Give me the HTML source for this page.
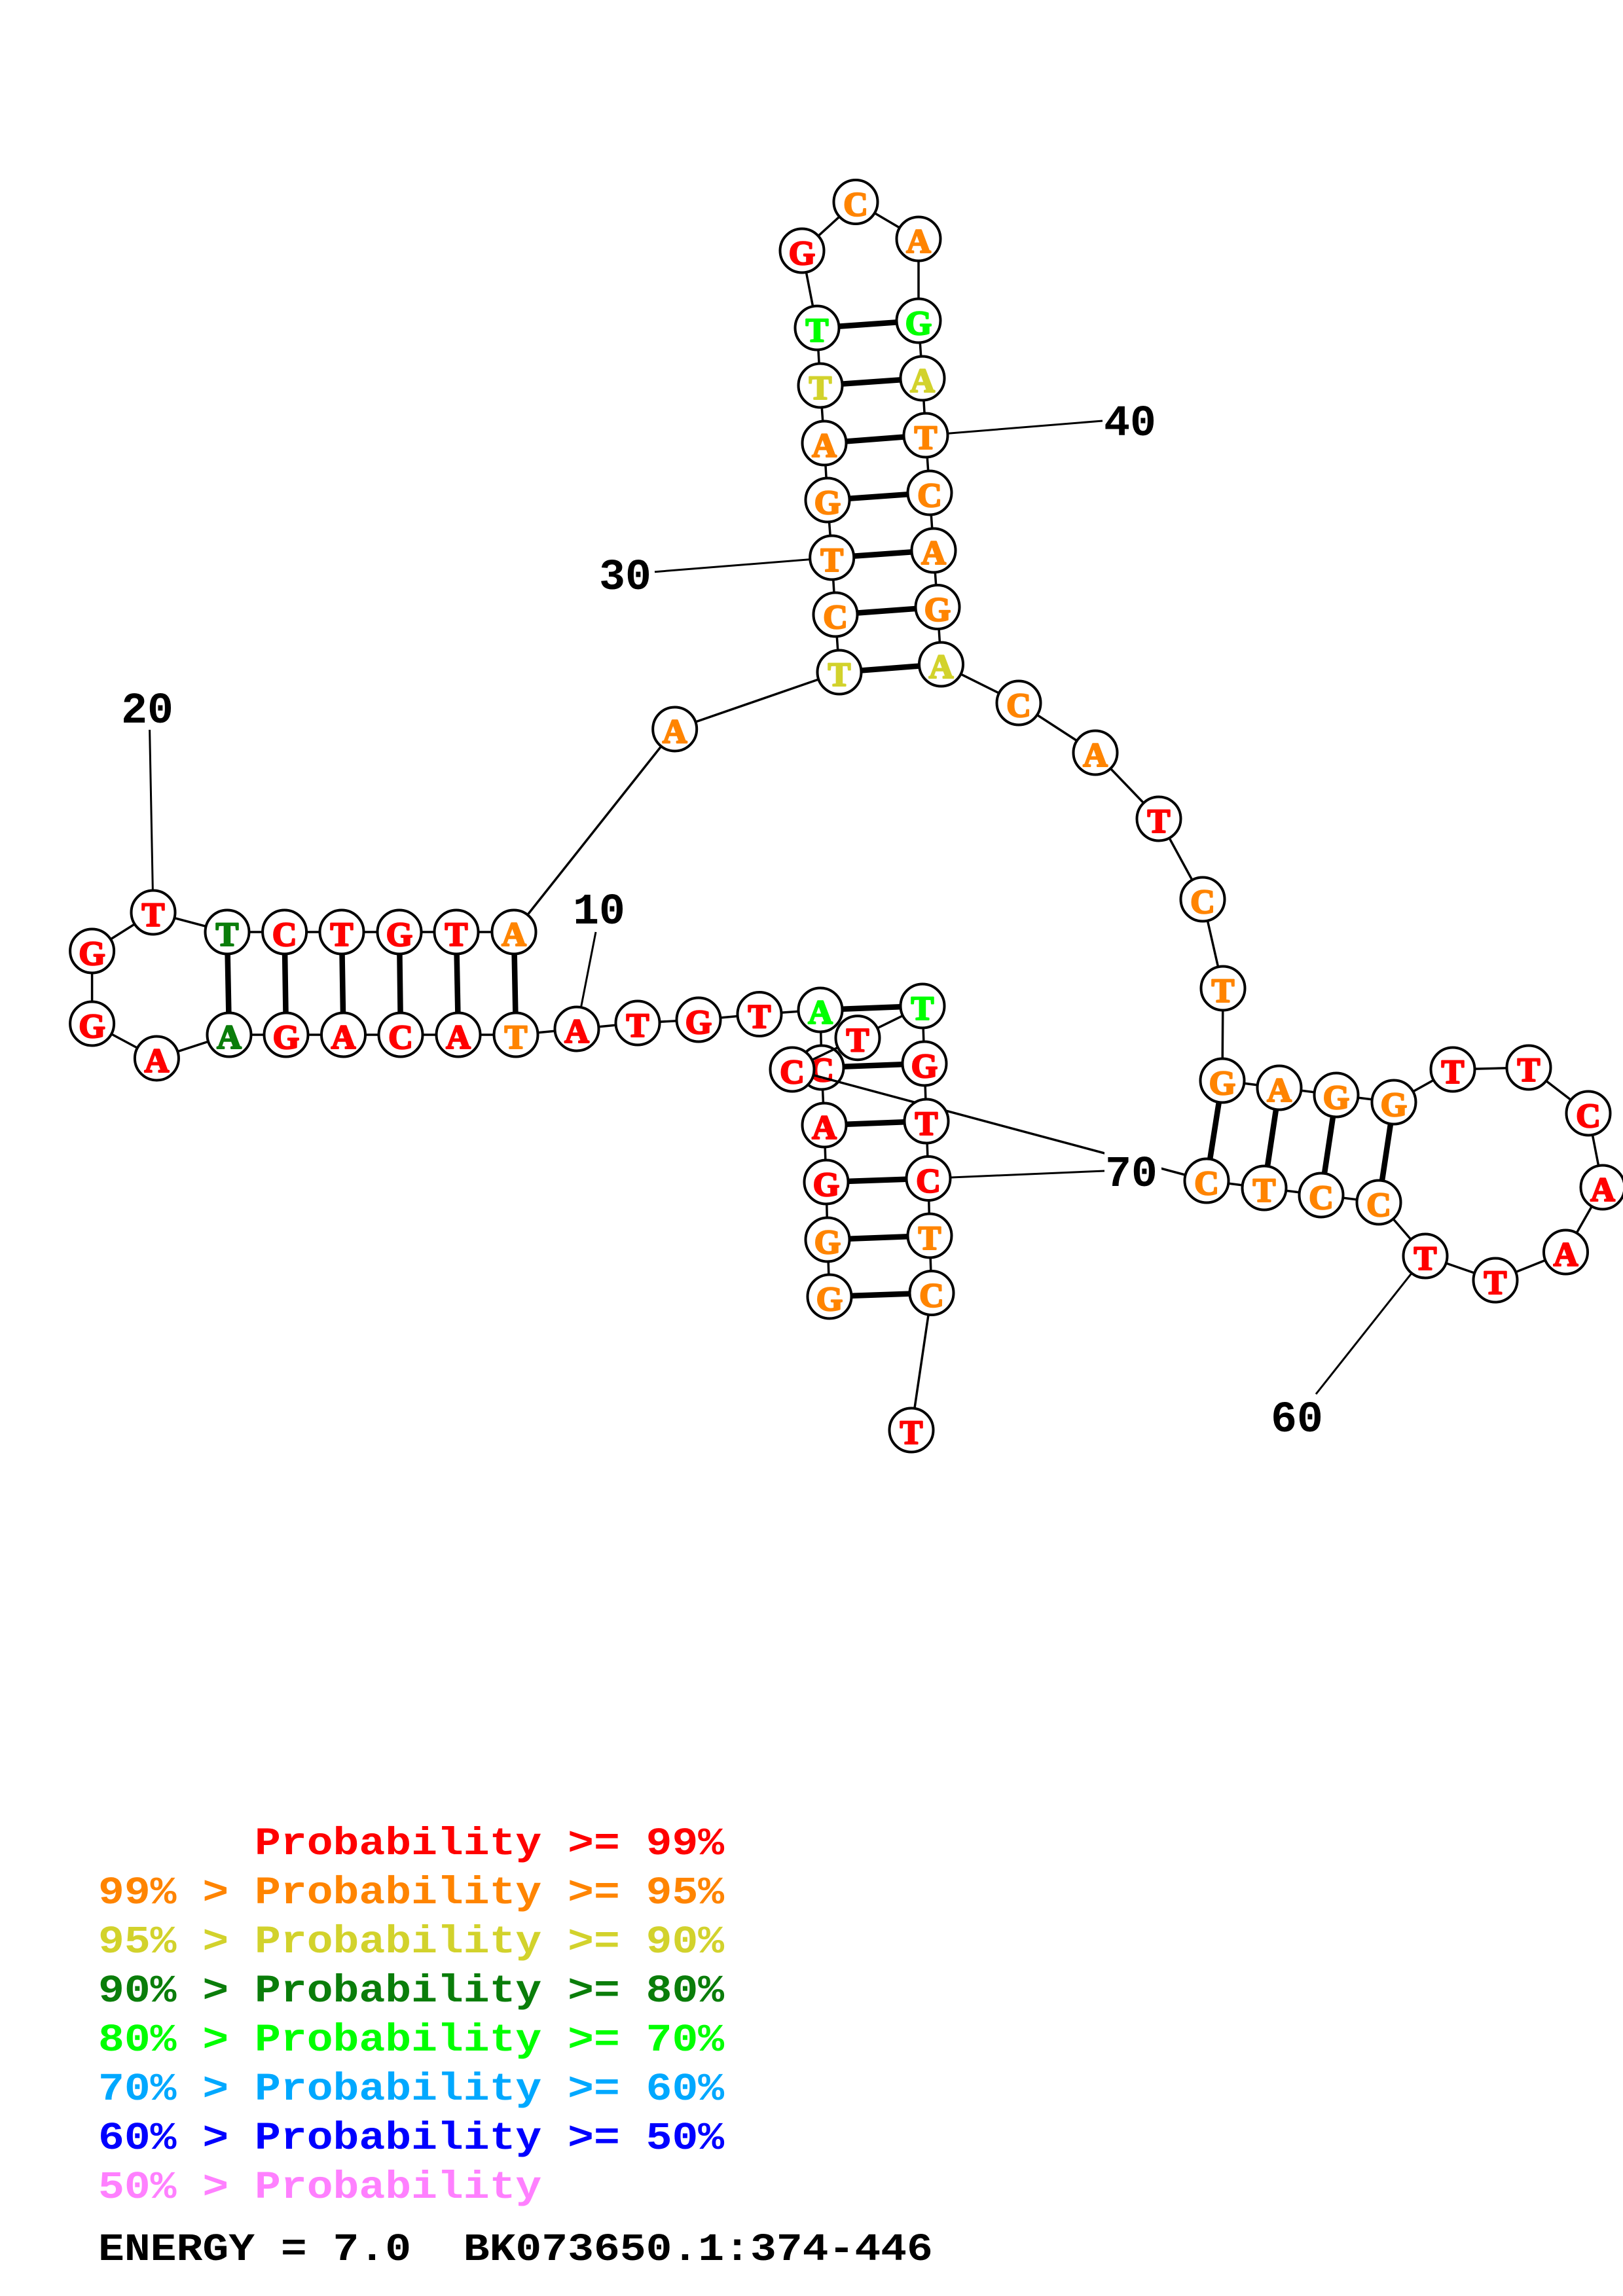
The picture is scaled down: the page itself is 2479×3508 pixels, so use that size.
<!DOCTYPE html>
<html><head><meta charset="utf-8"><style>
html,body{margin:0;padding:0;background:#fff}
svg{display:block}
path{stroke:#000;fill:none;stroke-width:3.5}
.p path{stroke-width:8.5}
.l path{stroke-width:3}
circle{r:33.5px;fill:#fff;stroke:#000;stroke-width:4}
.n text{font-family:"Liberation Serif",serif;font-weight:bold;font-size:52px;text-anchor:middle;stroke-width:2.5px;stroke-linejoin:round}
.r{fill:#f00;stroke:#f00}.o{fill:#ff8400;stroke:#ff8400}.y{fill:#d2d22c;stroke:#d2d22c}.d{fill:#0a7d0a;stroke:#0a7d0a}.g{fill:#0f0;stroke:#0f0}
.m{font-family:"Liberation Mono",monospace;font-weight:bold;font-size:66.4px;white-space:pre}
.m.c{text-anchor:middle}
</style></head><body>
<svg xmlns="http://www.w3.org/2000/svg" width="2479" height="3508" viewBox="0 0 2479 3508">
<rect width="2479" height="3508" fill="#fff"/>
<g class="p">
<path d="M1267 1981L1423 1975.5"/><path d="M1264 1894L1420 1888"/><path d="M1262 1806L1418 1800.5"/><path d="M1259 1719L1415 1713"/><path d="M1255 1631L1412 1625"/><path d="M1253 1543L1409 1537"/>
<path d="M788 1581L785 1424"/><path d="M700 1581L697 1424"/><path d="M612 1581L610 1424"/><path d="M524.5 1581L522 1424"/><path d="M437 1581L434.6 1424"/><path d="M350 1581L347 1424"/>
<path d="M1282 1027L1437.5 1015"/><path d="M1276 939L1432 927.5"/><path d="M1270.7 852L1426 841"/><path d="M1264 764L1420 753"/><path d="M1259 677L1414 665"/><path d="M1253 589L1409 578"/><path d="M1248 501L1403 490"/>
<path d="M1867 1651L1843 1804"/><path d="M1954 1662L1931 1815"/><path d="M2041 1673L2018 1826"/><path d="M2129 1684L2106 1837"/>
</g>
<g class="l">
<path d="M234 1394L228.6 1115"/><path d="M881 1572L910 1424"/><path d="M1270.7 852L1000 873.7"/><path d="M1414 665L1684 643"/><path d="M2177 1919L2010 2130"/><path d="M1418 1800.5L1687 1789"/>
</g>
<g>
<path d="M1267 1981L1264 1894L1262 1806L1259 1719L1255 1631L1253 1543L1160 1549.5L1067 1558L974 1563L881 1572L788 1581L700 1581L612 1581L524.5 1581L437 1581L350 1581L239.4 1617L140.6 1564L140.6 1453L234 1394L347 1424L434.6 1424L522 1424L610 1424L697 1424L785 1424L1030.7 1114L1282 1027L1276 939L1270.7 852L1264 764L1259 677L1253 589L1248 501L1225 383L1307 308.5L1403 365L1403 490L1409 578L1414 665L1420 753L1426 841L1432 927.5L1437.5 1015L1556 1074L1673 1150L1770 1251L1837 1374L1868 1510L1867 1651L1954 1662L2041 1673L2129 1684L2219 1634L2335 1631L2426 1701L2448 1814L2391.5 1913L2284 1956L2177 1919L2106 1837L2018 1826L1931 1815L1843 1804"/>
<path d="M1409 1537L1412 1625L1415 1713L1418 1800.5L1420 1888L1423 1975.5L1392 2185"/>
</g>
<g class="n">
<circle cx="1267" cy="1981"/><text class="o" x="1267" y="2002">G</text>
<circle cx="1264" cy="1894"/><text class="o" x="1264" y="1915">G</text>
<circle cx="1262" cy="1806"/><text class="r" x="1262" y="1827">G</text>
<circle cx="1259" cy="1719"/><text class="r" x="1259" y="1740">A</text>
<circle cx="1255" cy="1631"/><text class="r" x="1255" y="1652">C</text>
<circle cx="1253" cy="1543"/><text class="g" x="1253" y="1564">A</text>
<circle cx="1160" cy="1549.5"/><text class="r" x="1160" y="1570.5">T</text>
<circle cx="1067" cy="1558"/><text class="r" x="1067" y="1579">G</text>
<circle cx="974" cy="1563"/><text class="r" x="974" y="1584">T</text>
<circle cx="881" cy="1572"/><text class="r" x="881" y="1593">A</text>
<circle cx="788" cy="1581"/><text class="o" x="788" y="1602">T</text>
<circle cx="700" cy="1581"/><text class="r" x="700" y="1602">A</text>
<circle cx="612" cy="1581"/><text class="r" x="612" y="1602">C</text>
<circle cx="524.5" cy="1581"/><text class="r" x="524.5" y="1602">A</text>
<circle cx="437" cy="1581"/><text class="r" x="437" y="1602">G</text>
<circle cx="350" cy="1581"/><text class="d" x="350" y="1602">A</text>
<circle cx="239.4" cy="1617"/><text class="r" x="239.4" y="1638">A</text>
<circle cx="140.6" cy="1564"/><text class="r" x="140.6" y="1585">G</text>
<circle cx="140.6" cy="1453"/><text class="r" x="140.6" y="1474">G</text>
<circle cx="234" cy="1394"/><text class="r" x="234" y="1415">T</text>
<circle cx="347" cy="1424"/><text class="d" x="347" y="1445">T</text>
<circle cx="434.6" cy="1424"/><text class="r" x="434.6" y="1445">C</text>
<circle cx="522" cy="1424"/><text class="r" x="522" y="1445">T</text>
<circle cx="610" cy="1424"/><text class="r" x="610" y="1445">G</text>
<circle cx="697" cy="1424"/><text class="r" x="697" y="1445">T</text>
<circle cx="785" cy="1424"/><text class="o" x="785" y="1445">A</text>
<circle cx="1030.7" cy="1114"/><text class="o" x="1030.7" y="1135">A</text>
<circle cx="1282" cy="1027"/><text class="y" x="1282" y="1048">T</text>
<circle cx="1276" cy="939"/><text class="o" x="1276" y="960">C</text>
<circle cx="1270.7" cy="852"/><text class="o" x="1270.7" y="873">T</text>
<circle cx="1264" cy="764"/><text class="o" x="1264" y="785">G</text>
<circle cx="1259" cy="677"/><text class="o" x="1259" y="698">A</text>
<circle cx="1253" cy="589"/><text class="y" x="1253" y="610">T</text>
<circle cx="1248" cy="501"/><text class="g" x="1248" y="522">T</text>
<circle cx="1225" cy="383"/><text class="r" x="1225" y="404">G</text>
<circle cx="1307" cy="308.5"/><text class="o" x="1307" y="329.5">C</text>
<circle cx="1403" cy="365"/><text class="o" x="1403" y="386">A</text>
<circle cx="1403" cy="490"/><text class="g" x="1403" y="511">G</text>
<circle cx="1409" cy="578"/><text class="y" x="1409" y="599">A</text>
<circle cx="1414" cy="665"/><text class="o" x="1414" y="686">T</text>
<circle cx="1420" cy="753"/><text class="o" x="1420" y="774">C</text>
<circle cx="1426" cy="841"/><text class="o" x="1426" y="862">A</text>
<circle cx="1432" cy="927.5"/><text class="o" x="1432" y="948.5">G</text>
<circle cx="1437.5" cy="1015"/><text class="y" x="1437.5" y="1036">A</text>
<circle cx="1556" cy="1074"/><text class="o" x="1556" y="1095">C</text>
<circle cx="1673" cy="1150"/><text class="o" x="1673" y="1171">A</text>
<circle cx="1770" cy="1251"/><text class="r" x="1770" y="1272">T</text>
<circle cx="1837" cy="1374"/><text class="o" x="1837" y="1395">C</text>
<circle cx="1868" cy="1510"/><text class="o" x="1868" y="1531">T</text>
<circle cx="1867" cy="1651"/><text class="o" x="1867" y="1672">G</text>
<circle cx="1954" cy="1662"/><text class="o" x="1954" y="1683">A</text>
<circle cx="2041" cy="1673"/><text class="o" x="2041" y="1694">G</text>
<circle cx="2129" cy="1684"/><text class="o" x="2129" y="1705">G</text>
<circle cx="2219" cy="1634"/><text class="r" x="2219" y="1655">T</text>
<circle cx="2335" cy="1631"/><text class="r" x="2335" y="1652">T</text>
<circle cx="2426" cy="1701"/><text class="r" x="2426" y="1722">C</text>
<circle cx="2448" cy="1814"/><text class="r" x="2448" y="1835">A</text>
<circle cx="2391.5" cy="1913"/><text class="r" x="2391.5" y="1934">A</text>
<circle cx="2284" cy="1956"/><text class="r" x="2284" y="1977">T</text>
<circle cx="2177" cy="1919"/><text class="r" x="2177" y="1940">T</text>
<circle cx="2106" cy="1837"/><text class="o" x="2106" y="1858">C</text>
<circle cx="2018" cy="1826"/><text class="o" x="2018" y="1847">C</text>
<circle cx="1931" cy="1815"/><text class="o" x="1931" y="1836">T</text>
<circle cx="1843" cy="1804"/><text class="o" x="1843" y="1825">C</text>
<path d="M1810 1795L1210 1634L1310 1585.7L1409 1537"/>
<circle cx="1210" cy="1634"/><text class="r" x="1210" y="1655">C</text>
<circle cx="1310" cy="1585.7"/><text class="r" x="1310" y="1606.7">T</text>
<circle cx="1409" cy="1537"/><text class="g" x="1409" y="1558">T</text>
<circle cx="1412" cy="1625"/><text class="r" x="1412" y="1646">G</text>
<circle cx="1415" cy="1713"/><text class="r" x="1415" y="1734">T</text>
<circle cx="1418" cy="1800.5"/><text class="r" x="1418" y="1821.5">C</text>
<circle cx="1420" cy="1888"/><text class="o" x="1420" y="1909">T</text>
<circle cx="1423" cy="1975.5"/><text class="o" x="1423" y="1996.5">C</text>
<circle cx="1392" cy="2185"/><text class="r" x="1392" y="2206">T</text>
</g>
<rect x="1687" y="1750" width="87" height="70" fill="#fff"/>
<g>
<text class="m c" x="225" y="1104">20</text>
<text class="m c" x="915" y="1411">10</text>
<text class="m c" x="955" y="900">30</text>
<text class="m c" x="1726" y="665">40</text>
<text class="m c" x="1981" y="2187">60</text>
<text class="m c" x="1728" y="1812">70</text>
</g>
<g>
<text class="m" transform="translate(150,2833) scale(1,.9)" fill="#f00">      Probability &gt;= 99%</text>
<text class="m" transform="translate(150,2908) scale(1,.9)" fill="#ff8400">99% &gt; Probability &gt;= 95%</text>
<text class="m" transform="translate(150,2983) scale(1,.9)" fill="#d2d22c">95% &gt; Probability &gt;= 90%</text>
<text class="m" transform="translate(150,3058) scale(1,.9)" fill="#0a7d0a">90% &gt; Probability &gt;= 80%</text>
<text class="m" transform="translate(150,3133) scale(1,.9)" fill="#0f0">80% &gt; Probability &gt;= 70%</text>
<text class="m" transform="translate(150,3208) scale(1,.9)" fill="#00a8ff">70% &gt; Probability &gt;= 60%</text>
<text class="m" transform="translate(150,3283) scale(1,.9)" fill="#00f">60% &gt; Probability &gt;= 50%</text>
<text class="m" transform="translate(150,3358) scale(1,.9)" fill="#ff80ff">50% &gt; Probability</text>
<text class="m" transform="translate(150,3453) scale(1,.9)" fill="#000">ENERGY = 7.0  BK073650.1:374-446</text>
</g>
</svg>
</body></html>
